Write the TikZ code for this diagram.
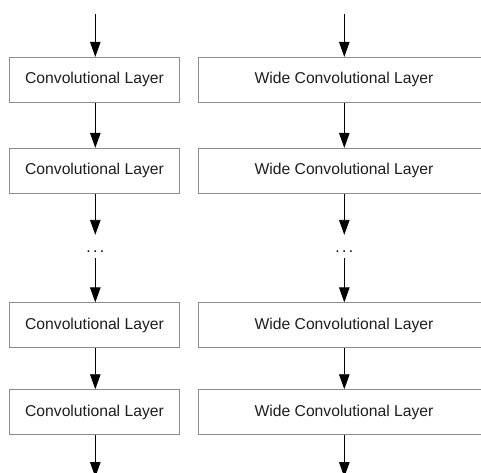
\documentclass[tikz,border=0pt]{standalone}
\usepackage{fontspec}
\setmainfont{Liberation Sans}
\usetikzlibrary{arrows.meta}
\definecolor{boxgray}{HTML}{8C8C8C}
\definecolor{txt}{HTML}{1E1E1E}
\begin{document}
\begin{tikzpicture}[x=1pt,y=-1pt,
  layer/.style={draw=boxgray,line width=0.9pt,fill=white,minimum height=45pt,inner sep=0pt,
    font=\fontsize{15.7}{18}\selectfont,text=txt},
  leftbox/.style={layer,minimum width=170pt},
  rightbox/.style={layer,minimum width=291.5pt},
  conn/.style={draw=black,line width=0.9pt,-{Triangle[length=15pt,width=10.5pt]}},
  dotsnode/.style={inner sep=0pt,text height=17.7pt,text depth=5.3pt,font=\fontsize{15.7}{18}\selectfont}
]
\useasboundingbox (0,0) rectangle (481,472);
\fill[white] (0,0) rectangle (481,472);
% left column
\coordinate (lin) at (95.3,14);
\node[leftbox] (l1) at (94.5,79.8) {Convolutional Layer};
\node[leftbox] (l2) at (94.5,170.8) {Convolutional Layer};
\node[dotsnode] (ld) at (95.3,246.5) {.\kern2.5pt.\kern2.5pt.};
\node[leftbox] (l3) at (94.5,325.3) {Convolutional Layer};
\node[leftbox] (l4) at (94.5,412.2) {Convolutional Layer};
\coordinate (lout) at (95.3,477);
% right column
\coordinate (rin) at (344.3,14);
\node[rightbox] (r1) at (344,79.8) {Wide Convolutional Layer};
\node[rightbox] (r2) at (344,170.8) {Wide Convolutional Layer};
\node[dotsnode] (rd) at (344.3,246.5) {.\kern2.5pt.\kern2.5pt.};
\node[rightbox] (r3) at (344,325.3) {Wide Convolutional Layer};
\node[rightbox] (r4) at (344,412.2) {Wide Convolutional Layer};
\coordinate (rout) at (344.3,477);
% connectors
\draw[conn] (lin) -- (l1.north -| lin);
\draw[conn] (l1.south -| lin) -- (l2.north -| lin);
\draw[conn] (l2.south -| lin) -- (ld.north);
\draw[conn] (ld.south) -- (l3.north -| lin);
\draw[conn] (l3.south -| lin) -- (l4.north -| lin);
\draw[conn] (l4.south -| lin) -- (lout);
\draw[conn] (rin) -- (r1.north -| rin);
\draw[conn] (r1.south -| rin) -- (r2.north -| rin);
\draw[conn] (r2.south -| rin) -- (rd.north);
\draw[conn] (rd.south) -- (r3.north -| rin);
\draw[conn] (r3.south -| rin) -- (r4.north -| rin);
\draw[conn] (r4.south -| rin) -- (rout);
\end{tikzpicture}
\end{document}
